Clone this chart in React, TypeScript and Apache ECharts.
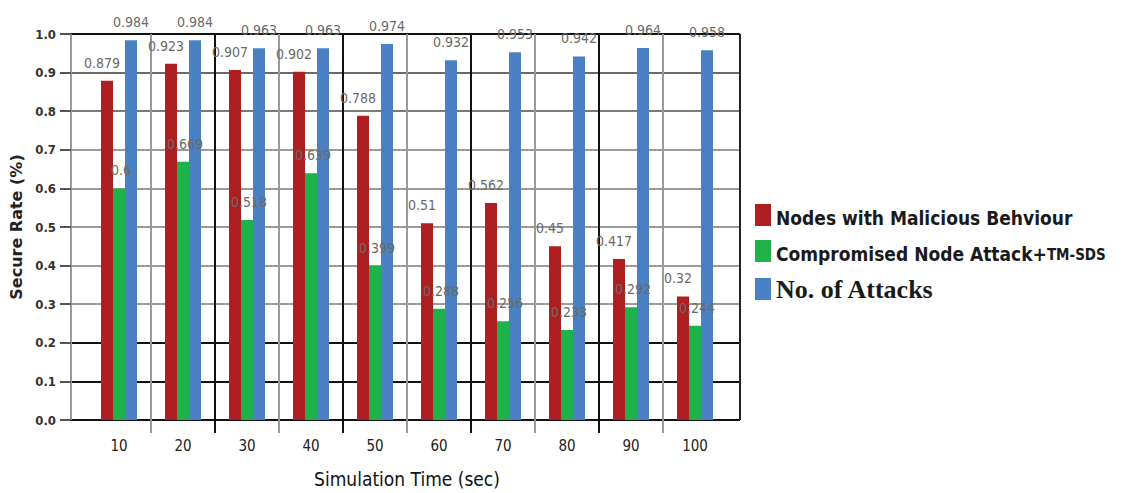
import React, { useEffect, useRef } from "react";
import * as echarts from "echarts";

// Simulation time (sec) categories
const categories = ["10", "20", "30", "40", "50", "60", "70", "80", "90", "100"];

// Secure rate per series
const malicious = [0.879, 0.923, 0.907, 0.902, 0.788, 0.51, 0.562, 0.45, 0.417, 0.32];
const compromised = [0.6, 0.669, 0.518, 0.639, 0.399, 0.288, 0.256, 0.233, 0.292, 0.244];
const attacks = [0.984, 0.984, 0.963, 0.963, 0.974, 0.932, 0.953, 0.942, 0.964, 0.958];

const seriesNames = [
  "Nodes with Malicious Behviour",
  "Compromised Node Attack+TM-SDS",
  "No. of Attacks",
];
const seriesColors = ["#b01e22", "#20b24a", "#4a80c4"];

// Horizontal grid colours for 0.0 .. 1.0
const hLineColors = ["#111", "#111", "#111", "#9a9a9a", "#9a9a9a", "#9a9a9a", "#9a9a9a", "#9a9a9a", "#7a7a7a", "#6a6a6a", "#111"];
// Vertical separators between categories (outer edges hidden)
const vLineColors = ["transparent", "#9a9a9a", "#111", "#9a9a9a", "#111", "#9a9a9a", "#111", "#9a9a9a", "#111", "#9a9a9a", "transparent"];

const COND = "'DejaVu Sans Condensed', 'Liberation Sans Narrow', sans-serif";

export default function App() {
  const ref = useRef<HTMLDivElement>(null);

  useEffect(() => {
    if (!ref.current) return;
    const chart = echarts.init(ref.current, undefined, { renderer: "svg" });

    const labelStyle = (dx: number) => ({
      show: true,
      position: "top" as const,
      distance: 11,
      offset: [dx, 0],
      color: "#6a6a6a",
      fontSize: 14,
      fontFamily: COND,
    });

    const option = {
      animation: false,
      backgroundColor: "#ffffff",
      grid: [
        { left: 71, right: 389, top: 34, bottom: 73 },
        { left: 87, right: 402, top: 34, bottom: 60 },
      ],
      legend: {
        orient: "vertical",
        left: 750,
        top: 199,
        icon: "rect",
        itemWidth: 16,
        itemHeight: 22,
        itemGap: 13,
        data: seriesNames,
        formatter: (name: string) => {
          if (name === "No. of Attacks") return `{s|${name}}`;
          if (name === "Compromised Node Attack+TM-SDS") return `{c|Compromised Node Attack+}{t|TM-SDS}`;
          return `{c|${name}}`;
        },
        textStyle: {
          rich: {
            c: { fontFamily: COND, fontSize: 19, fontWeight: "bold", color: "#1a1a1a", lineHeight: 24, verticalAlign: "bottom" },
            t: { fontFamily: COND, fontSize: 15, fontWeight: "bold", color: "#1a1a1a", lineHeight: 24, verticalAlign: "bottom", padding: [0, 0, 1, 0] },
            s: { fontFamily: "'Liberation Serif', serif", fontSize: 26, fontWeight: "bold", color: "#1a1a1a", lineHeight: 26 },
          },
        },
      },
      xAxis: [
        {
          type: "value",
          gridIndex: 0,
          min: 0,
          max: 1,
          interval: 1,
          axisLine: { show: false },
          axisTick: { show: false },
          axisLabel: { show: false },
          splitLine: { show: true, lineStyle: { color: ["#9a9a9a", "#222"], width: 2 } },
        },
        {
          type: "category",
          gridIndex: 1,
          data: categories,
          axisLine: { show: false },
          axisTick: { show: false },
          axisLabel: { color: "#222", fontSize: 15, fontFamily: COND, margin: 5, interval: 0 },
          splitLine: { show: true, interval: 0, lineStyle: { color: vLineColors, width: 2 } },
          name: "Simulation Time (sec)",
          nameLocation: "middle",
          nameGap: 36,
          nameTextStyle: { color: "#111", fontSize: 19, fontFamily: COND },
        },
      ],
      yAxis: [
        {
          type: "value",
          gridIndex: 0,
          min: 0,
          max: 1,
          interval: 0.1,
          axisLine: { show: false },
          axisTick: { show: true, length: 11, lineStyle: { color: "#555", width: 2 } },
          axisLabel: {
            color: "#333",
            fontSize: 13,
            fontWeight: "bold",
            fontFamily: COND,
            margin: 15,
            formatter: (v: number) => v.toFixed(1),
          },
          splitLine: { show: true, lineStyle: { color: hLineColors, width: 2 } },
          name: "Secure Rate (%)",
          nameLocation: "middle",
          nameGap: 46,
          nameTextStyle: { color: "#222", fontSize: 16, fontWeight: "bold", fontFamily: "'DejaVu Sans', sans-serif" },
        },
        {
          type: "value",
          gridIndex: 1,
          min: -0.0337,
          max: 1,
          show: false,
          splitLine: { show: false },
        },
      ],
      series: [
        {
          name: seriesNames[0],
          type: "bar",
          xAxisIndex: 1,
          yAxisIndex: 1,
          data: malicious,
          barWidth: 12,
          barGap: "0%",
          itemStyle: { color: seriesColors[0] },
          label: labelStyle(-5),
        },
        {
          name: seriesNames[1],
          type: "bar",
          xAxisIndex: 1,
          yAxisIndex: 1,
          data: compromised,
          barWidth: 12,
          barGap: "0%",
          itemStyle: { color: seriesColors[1] },
          label: labelStyle(2),
        },
        {
          name: seriesNames[2],
          type: "bar",
          xAxisIndex: 1,
          yAxisIndex: 1,
          data: attacks,
          barWidth: 12,
          barGap: "0%",
          itemStyle: { color: seriesColors[2] },
          label: labelStyle(0),
        },
      ],
    };

    chart.setOption(option as any);
    return () => chart.dispose();
  }, []);

  return (
    <div
      ref={ref}
      style={{ position: "absolute", left: 0, top: 0, width: 1129, height: 493 }}
    />
  );
}
